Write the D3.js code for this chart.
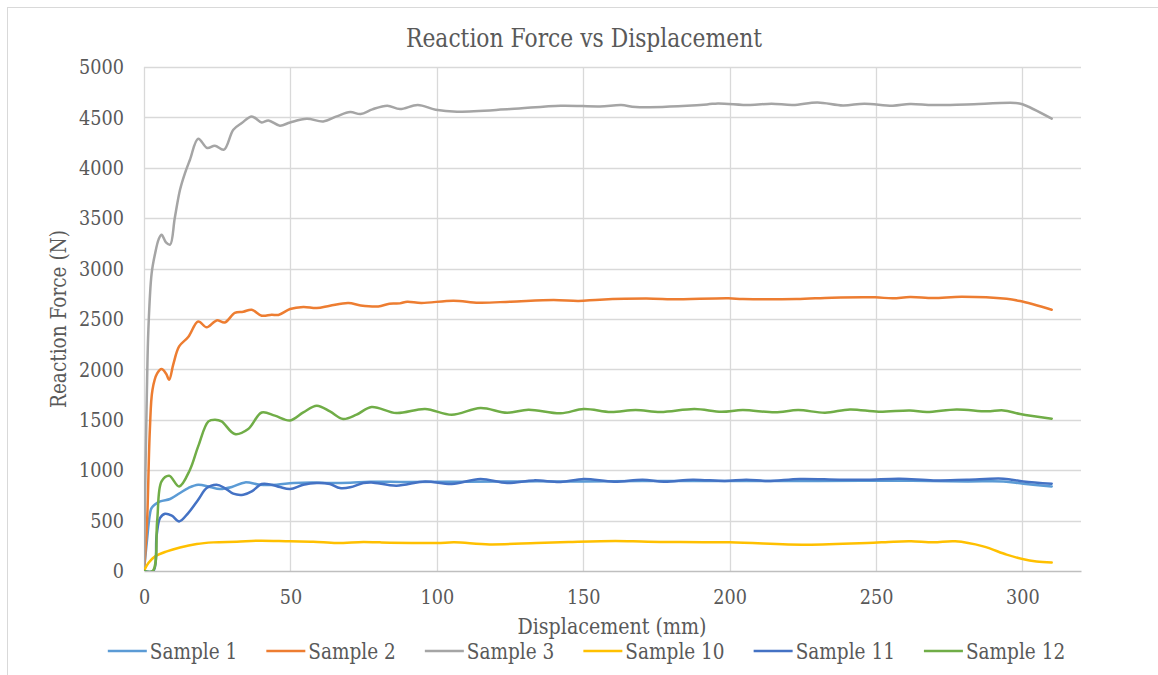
<!DOCTYPE html>
<html>
<head>
<meta charset="utf-8">
<script src="https://cdn.jsdelivr.net/npm/d3@7"></script>
<style>
  html, body { margin: 0; padding: 0; background: #ffffff; }
  svg { display: block; }
  svg text { fill: #595959; }
</style>
</head>
<body>
<svg id="chart" width="1158" height="675"></svg>
<script>
// Reaction force (N) against displacement (mm) for six samples
const sampleNames = ["Sample 1", "Sample 2", "Sample 3", "Sample 10", "Sample 11", "Sample 12"];
const sampleColors = ["#5B9BD5", "#ED7D31", "#A5A5A5", "#FFC000", "#4472C4", "#70AD47"];

const xTicks = [0, 50, 100, 150, 200, 250, 300];
const yTicks = [0, 500, 1000, 1500, 2000, 2500, 3000, 3500, 4000, 4500, 5000];

// [displacement, force] pairs
const sample1 = [[0,0],[1,300],[2,560],[2.6,625],[5.5,690],[8.9,714],[12.3,774],[15.1,823],[18.5,856],[22.5,833],[25.9,813],[30,833],[34.5,879],[39.6,856],[45.3,856],[51,873],[57.8,879],[63.5,873],[70.4,876],[77.2,886],[90,882],[110,886],[130,889],[150,889],[170,892],[190,892],[210,893],[230,893],[258,896],[281,889],[293.5,889],[300.3,866],[310,839]];

const sample2 = [[0,0],[1,450],[2,1401],[2.9,1799],[4.5,1960],[6,2004],[7.5,1960],[8.6,1898],[10,2050],[12,2228],[15.1,2321],[18.5,2476],[21.4,2417],[24.8,2486],[27.6,2466],[31,2560],[33.9,2572],[36.8,2592],[40.2,2533],[43.6,2543],[45.9,2540],[49.9,2599],[54.4,2619],[59,2609],[63.5,2632],[69.8,2659],[74,2635],[80,2625],[83.8,2652],[87.4,2655],[89.9,2672],[94.7,2659],[105.7,2682],[114.3,2662],[125.2,2672],[139.9,2689],[148.4,2679],[155.7,2692],[174,2702],[180.1,2695],[199.6,2705],[204.5,2698],[222.8,2698],[235,2712],[249.7,2715],[255.7,2705],[261.6,2718],[269.6,2708],[279.2,2721],[294.6,2701],[299.2,2678],[310,2592]];

const sample3 = [[0,0],[0.5,1000],[1,1800],[1.5,2400],[2.6,2950],[3.8,3150],[5,3290],[6,3336],[7.5,3260],[8.9,3237],[10.5,3500],[12.3,3782],[14,3948],[15.7,4080],[18.5,4288],[21.6,4196],[24.2,4219],[27.3,4180],[30.5,4378],[33.4,4444],[36.8,4510],[40.2,4450],[42.5,4470],[46.4,4418],[49.9,4450],[55.6,4487],[61.2,4460],[65.8,4510],[70.4,4553],[74,4533],[78,4580],[83.1,4616],[87.4,4583],[93.5,4623],[99.6,4576],[106.9,4557],[125.2,4583],[142.3,4616],[155.7,4609],[163,4623],[168,4603],[192.3,4629],[196,4639],[207,4623],[214.3,4636],[221.6,4623],[230,4649],[238.7,4619],[246,4636],[255.7,4616],[261.6,4633],[269.5,4622],[281,4629],[297.5,4643],[300,4630],[310,4487]];

const sample10 = [[0,0],[1.5,79],[3.8,145],[7.8,195],[12.3,234],[18,268],[23.7,284],[31.7,291],[39.6,301],[49.9,294],[57.8,291],[65.8,278],[74.9,288],[80.6,284],[100,278],[106,284],[118,264],[134,278],[145,288],[161,298],[172,291],[200,284],[226,261],[247,278],[256,291],[262,294],[269.6,284],[277,294],[286.6,244],[294.6,162],[300,119],[304.8,95],[310,85]];

const sample11 = [[0,0],[3.2,0],[4.3,350],[5.5,526],[7.2,568],[9.5,549],[12,492],[15.1,575],[18.5,707],[21.4,823],[24.8,856],[27.6,823],[30.5,767],[33.9,757],[36.8,790],[40.2,863],[43.6,856],[46.4,833],[49.9,813],[54.4,856],[59,873],[63.5,863],[66.9,823],[70.4,830],[74.9,873],[77.7,879],[86.2,846],[96,889],[105.1,863],[114.9,913],[124,873],[133.2,899],[142.3,883],[150.2,913],[160.5,886],[170.3,906],[177.6,886],[187.4,906],[198.4,893],[205.7,906],[213,893],[224,913],[237.4,906],[247.1,906],[258,916],[269.6,899],[281,906],[293.5,916],[300.3,889],[310,866]];

const sample12 = [[0,0],[3,0],[4.5,500],[6,889],[8.6,945],[12,839],[15.7,1005],[18.5,1236],[22,1484],[24.3,1501],[26.5,1484],[31,1359],[35.6,1409],[40.2,1573],[44.7,1541],[49.9,1494],[54.4,1573],[59,1640],[63.5,1583],[68,1508],[72.6,1551],[77.7,1627],[86.2,1567],[96,1607],[105.1,1550],[114.9,1617],[124,1570],[131.3,1600],[142.3,1564],[150.2,1607],[159.4,1577],[167.9,1597],[176.4,1577],[188,1607],[197.2,1580],[204.5,1597],[215.5,1574],[223.4,1597],[232.6,1570],[241.1,1603],[250.9,1580],[261.6,1593],[267.3,1577],[277.5,1603],[287.8,1584],[293.5,1593],[299.2,1557],[310,1511]];

const seriesData = [sample1, sample2, sample3, sample10, sample11, sample12];

const svg = d3.select("#chart");
const W = 1158, H = 675;
const plot = { left: 144, right: 1081, top: 67, bottom: 571 };

// serif face, narrowed to Times-like proportions
const FONT = "DejaVu Serif";
const SQUEEZE = 0.84;
function squeeze(sel) {
  sel.each(function () {
    const w = this.getComputedTextLength();
    d3.select(this).attr("textLength", w * SQUEEZE).attr("lengthAdjust", "spacingAndGlyphs");
  });
  return sel;
}

// chart frame (only its left and top edges fall inside the page)
svg.append("rect")
  .attr("x", 7.5).attr("y", 7.5)
  .attr("width", W + 20).attr("height", H + 20)
  .attr("fill", "#ffffff").attr("stroke", "#d9d9d9").attr("stroke-width", 1);

const x = d3.scaleLinear().domain([0, 320]).range([plot.left, plot.right]);
const y = d3.scaleLinear().domain([0, 5000]).range([plot.bottom, plot.top]);

// gridlines
const grid = svg.append("g");
grid.selectAll("line.h").data(yTicks.filter(d => d > 0)).join("line")
  .attr("x1", plot.left).attr("x2", plot.right)
  .attr("y1", d => Math.round(y(d)) + 0.5).attr("y2", d => Math.round(y(d)) + 0.5)
  .attr("stroke", "#d9d9d9").attr("stroke-width", 1.3);
grid.selectAll("line.v").data(xTicks).join("line")
  .attr("y1", plot.top).attr("y2", plot.bottom)
  .attr("x1", d => Math.round(x(d)) + 0.5).attr("x2", d => Math.round(x(d)) + 0.5)
  .attr("stroke", "#d9d9d9").attr("stroke-width", 1.3);

// x axis
const xAxis = svg.append("g")
  .attr("transform", `translate(0,${plot.bottom})`)
  .call(d3.axisBottom(x).tickValues(xTicks).tickSize(0).tickPadding(18).tickFormat(d3.format("d")));
xAxis.attr("font-family", FONT);
xAxis.select(".domain").attr("stroke", "#bfbfbf").attr("stroke-width", 1.5);
squeeze(xAxis.selectAll("text").attr("font-size", 21).attr("fill", "#595959"));

// y axis
const yAxis = svg.append("g")
  .attr("transform", `translate(${plot.left},0)`)
  .call(d3.axisLeft(y).tickValues(yTicks).tickSize(0).tickPadding(20).tickFormat(d3.format("d")));
yAxis.attr("font-family", FONT);
yAxis.select(".domain").remove();
squeeze(yAxis.selectAll("text").attr("font-size", 21).attr("fill", "#595959"));

// data lines
const line = d3.line()
  .x(d => x(d[0]))
  .y(d => y(d[1]))
  .curve(d3.curveCatmullRom.alpha(0.5));

svg.append("clipPath").attr("id", "plotClip")
  .append("rect").attr("x", plot.left).attr("y", plot.top - 5)
  .attr("width", plot.right - plot.left).attr("height", plot.bottom - plot.top + 5);

svg.append("g").attr("clip-path", "url(#plotClip)")
  .selectAll("path").data(seriesData).join("path")
  .attr("d", line)
  .attr("fill", "none")
  .attr("stroke", (d, i) => sampleColors[i])
  .attr("stroke-width", 2.5)
  .attr("stroke-linejoin", "round")
  .attr("stroke-linecap", "round");

// title
squeeze(svg.append("text")
  .attr("x", 584).attr("y", 47)
  .attr("text-anchor", "middle")
  .attr("font-family", FONT)
  .attr("font-size", 26)
  .text("Reaction Force vs Displacement"));

// axis titles
squeeze(svg.append("text")
  .attr("x", 612).attr("y", 634)
  .attr("text-anchor", "middle")
  .attr("font-family", FONT)
  .attr("font-size", 22.7)
  .text("Displacement (mm)"));

squeeze(svg.append("text")
  .attr("transform", `translate(66,${(plot.top + plot.bottom) / 2}) rotate(-90)`)
  .attr("text-anchor", "middle")
  .attr("font-family", FONT)
  .attr("font-size", 22)
  .text("Reaction Force (N)"));

// legend: line sample followed by the series name, centred under the chart
const legend = svg.append("g");
const items = legend.selectAll("g").data(sampleNames).join("g");
items.append("line")
  .attr("x1", 0).attr("x2", 39).attr("y1", 0).attr("y2", 0)
  .attr("stroke", (d, i) => sampleColors[i]).attr("stroke-width", 2.5);
items.append("text")
  .attr("x", 42).attr("y", 8)
  .attr("font-family", FONT)
  .attr("font-size", 22)
  .text(d => d);
let cursor = 0;
const gapBetween = 29;
items.each(function () {
  const g = d3.select(this);
  const t = g.select("text").node();
  const w = t.getComputedTextLength() * SQUEEZE;
  d3.select(t).attr("textLength", w).attr("lengthAdjust", "spacingAndGlyphs");
  g.attr("transform", `translate(${cursor},0)`);
  cursor += 42 + w + gapBetween;
});
const totalW = cursor - gapBetween;
legend.attr("transform", `translate(${112 + (949 - totalW) / 2},651)`);
</script>
</body>
</html>
